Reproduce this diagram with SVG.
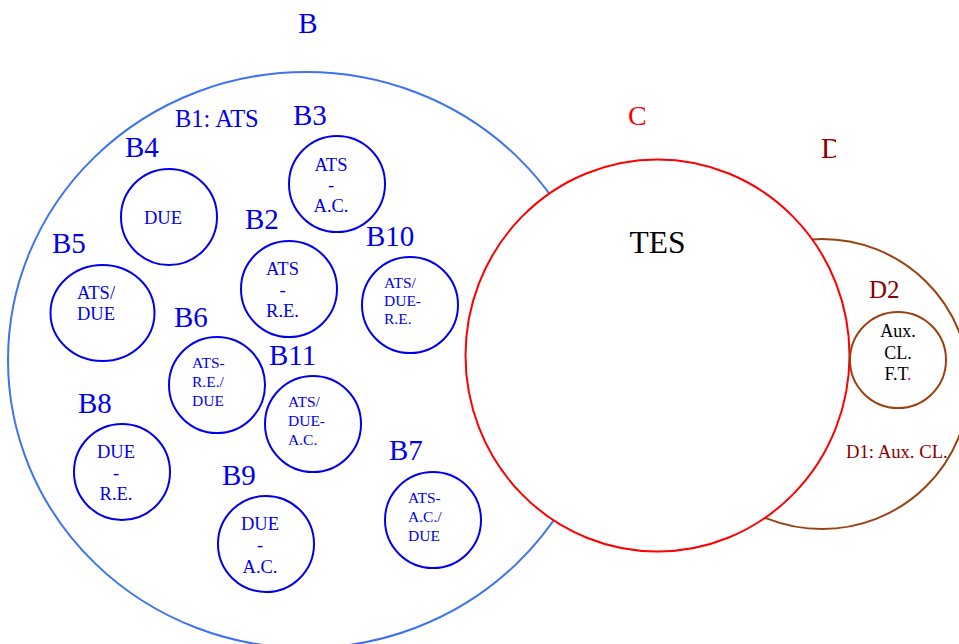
<svg xmlns="http://www.w3.org/2000/svg" width="959" height="644" viewBox="0 0 959 644">
<style>
text{font-family:"Liberation Serif","Times New Roman",serif}
.bl{fill:#0000ee}
.big{font-size:29px}
.sc{fill:none;stroke:#0000ee;stroke-width:2}
.t17{font-size:18.5px}
.t15{font-size:15.5px}
.m{text-anchor:middle}
.dr{fill:#8b0000}
.br{fill:none;stroke:#9a4212;stroke-width:2}
</style>
<defs>
<clipPath id="dclip"><rect x="0" y="0" width="836" height="644"/></clipPath>
</defs>
<rect width="959" height="644" fill="#ffffff"/>
<g id="B">
<ellipse cx="306" cy="360" rx="298" ry="288" fill="none" stroke="#3d73f0" stroke-width="2"/>
<text class="bl m big" x="308" y="33">B</text>
<text class="bl" x="175" y="127" style="font-size:24.5px">B1: ATS</text>
</g>
<g id="D">
<ellipse cx="822" cy="384" rx="147" ry="145" fill="#ffffff" stroke="#9a4212" stroke-width="2"/>
<text class="dr big" x="821" y="158" clip-path="url(#dclip)">D</text>
<text class="dr" x="846" y="458" style="font-size:18.7px">D1: Aux. CL.</text>
</g>
<g id="C">
<ellipse cx="657.5" cy="355.5" rx="192" ry="196" fill="#ffffff" stroke="#ff0000" stroke-width="2"/>
<text x="628" y="125" style="font-size:28px;fill:#ff0000">C</text>
<text x="657.5" y="253" class="m" style="font-size:31.5px;fill:#000">TES</text>
</g>
<g id="D2">
<circle class="br" cx="898" cy="360" r="48"/>
<text class="dr" x="869" y="298" style="font-size:25px">D2</text>
<text class="m" x="898" y="337" style="font-size:18px;fill:#000">Aux.</text>
<text class="m" x="898" y="358.5" style="font-size:18px;fill:#000">CL.</text>
<text class="m" x="898" y="380" style="font-size:18px;fill:#000">F.T<tspan fill="#ff00ff">.</tspan></text>
</g>
<g id="B3">
<circle class="sc" cx="337" cy="184" r="48"/>
<text class="bl big" x="293" y="125">B3</text>
<text class="bl t17 m" x="331" y="171">ATS</text>
<text class="bl t17 m" x="331" y="191">-</text>
<text class="bl t17 m" x="331" y="212">A.C.</text>
</g>
<g id="B4">
<circle class="sc" cx="169" cy="217" r="48"/>
<text class="bl big" x="125" y="157">B4</text>
<text class="bl t17 m" x="163" y="224">DUE</text>
</g>
<g id="B2">
<circle class="sc" cx="289" cy="289" r="48"/>
<text class="bl big" x="245" y="229">B2</text>
<text class="bl t17 m" x="282.5" y="275">ATS</text>
<text class="bl t17 m" x="282.5" y="296">-</text>
<text class="bl t17 m" x="282.5" y="317">R.E.</text>
</g>
<g id="B10">
<circle class="sc" cx="410" cy="305" r="48"/>
<text class="bl big" x="366" y="246">B10</text>
<text class="bl t15" x="384" y="288">ATS/</text>
<text class="bl t15" x="384" y="306">DUE-</text>
<text class="bl t15" x="384" y="324">R.E.</text>
</g>
<g id="B5">
<ellipse class="sc" cx="102.5" cy="313" rx="52" ry="48"/>
<text class="bl big" x="52" y="253">B5</text>
<text class="bl t17" x="77" y="299">ATS/</text>
<text class="bl t17" x="77" y="320">DUE</text>
</g>
<g id="B6">
<circle class="sc" cx="217" cy="385" r="48"/>
<text class="bl big" x="174" y="327">B6</text>
<text class="bl t15" x="192" y="368">ATS-</text>
<text class="bl t15" x="192" y="387">R.E./</text>
<text class="bl t15" x="192" y="406">DUE</text>
</g>
<g id="B11">
<circle class="sc" cx="313" cy="424" r="48"/>
<text class="bl big" x="269" y="365">B11</text>
<text class="bl t15" x="288" y="407">ATS/</text>
<text class="bl t15" x="288" y="426">DUE-</text>
<text class="bl t15" x="288" y="445">A.C.</text>
</g>
<g id="B8">
<circle class="sc" cx="122" cy="472" r="48"/>
<text class="bl big" x="78" y="413">B8</text>
<text class="bl t17 m" x="116" y="458">DUE</text>
<text class="bl t17 m" x="116" y="479">-</text>
<text class="bl t17 m" x="116" y="500">R.E.</text>
</g>
<g id="B9">
<circle class="sc" cx="266" cy="544" r="48"/>
<text class="bl big" x="222" y="485">B9</text>
<text class="bl t17 m" x="260" y="530">DUE</text>
<text class="bl t17 m" x="260" y="551">-</text>
<text class="bl t17 m" x="260" y="573">A.C.</text>
</g>
<g id="B7">
<circle class="sc" cx="433" cy="520" r="48"/>
<text class="bl big" x="389" y="460">B7</text>
<text class="bl t15" x="408" y="503">ATS-</text>
<text class="bl t15" x="408" y="522">A.C./</text>
<text class="bl t15" x="408" y="541">DUE</text>
</g>
<g id="connectors"/>
</svg>
